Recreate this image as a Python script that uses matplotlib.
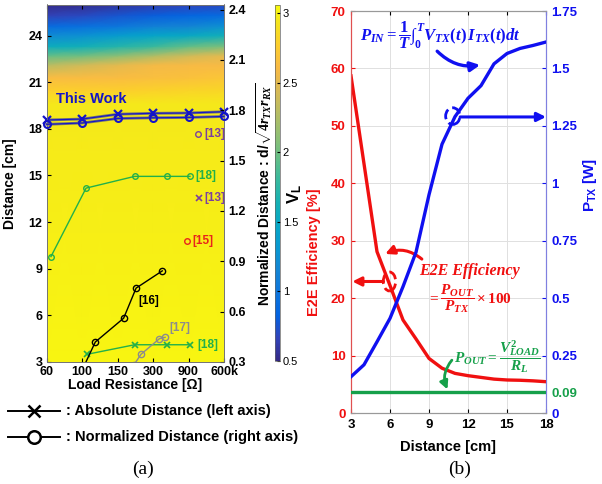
import numpy as np
import matplotlib
matplotlib.use('Agg')
import matplotlib.pyplot as plt
from matplotlib.colors import LinearSegmentedColormap
from matplotlib.patches import Ellipse
from matplotlib.lines import Line2D

plt.rcParams['font.family'] = ['Liberation Sans', 'DejaVu Sans']
plt.rcParams['font.weight'] = 'bold'
plt.rcParams['axes.labelweight'] = 'bold'
plt.rcParams['mathtext.fontset'] = 'custom'
plt.rcParams['mathtext.rm'] = 'Liberation Serif:bold'
plt.rcParams['mathtext.it'] = 'Liberation Serif:italic:bold'
plt.rcParams['mathtext.bf'] = 'Liberation Serif:bold'
plt.rcParams['mathtext.sf'] = 'Liberation Sans:bold'

# ---------------- data: panel (a) ----------------
load_labels = ['60', '100', '150', '300', '900', '600k']
heat_x = [0, 1, 2, 3, 4, 5]
heat_dist = [3, 19.6, 20.5, 21.3, 22.1, 22.7, 23.3, 24.0, 24.6, 25.3, 26]
heat_vl = [
    [3.02, 3.02, 3.02, 3.02, 3.02, 3.02],
    [2.95, 2.95, 2.95, 2.95, 2.95, 2.95],
    [2.78, 2.78, 2.78, 2.80, 2.82, 2.84],
    [2.62, 2.62, 2.63, 2.64, 2.66, 2.70],
    [2.30, 2.40, 2.50, 2.58, 2.60, 2.60],
    [1.95, 2.00, 2.10, 2.25, 2.40, 2.50],
    [1.55, 1.60, 1.70, 1.80, 1.95, 2.05],
    [1.20, 1.25, 1.35, 1.45, 1.50, 1.60],
    [0.90, 0.95, 1.00, 1.10, 1.15, 1.25],
    [0.65, 0.70, 0.75, 0.80, 0.85, 0.90],
    [0.50, 0.52, 0.58, 0.62, 0.66, 0.70],
]

this_work_x = [0, 1, 2, 3, 4, 5]
this_work_abs = [18.57, 18.63, 18.94, 19.0, 19.02, 19.1]
this_work_norm = [1.716, 1.724, 1.751, 1.755, 1.757, 1.763]

ref18_norm_x = [0.12, 1.11, 2.48, 3.38, 4.04]
ref18_norm = [0.928, 1.336, 1.406, 1.406, 1.406]
ref18_abs_x = [1.15, 2.48, 3.40, 4.03]
ref18_abs = [3.5, 4.11, 4.11, 4.11]
ref16_x = [1.0, 1.37, 2.17, 2.52, 3.26]
ref16_norm = [0.252, 0.419, 0.561, 0.74, 0.843]
ref17_x = [2.45, 2.66, 3.18, 3.34]
ref17_norm = [0.28, 0.346, 0.439, 0.447]
ref13_norm_x, ref13_norm = [4.28], [1.66]
ref13_abs_x, ref13_abs = [4.29], [13.52]
ref15_norm_x, ref15_norm = [3.97], [1.022]

# ---------------- data: panel (b) ----------------
dist = [3, 4, 5, 6, 7, 8, 9, 10, 11, 12, 13, 14, 15, 16, 17, 18]
eff = [58.7, 43.4, 28.1, 22.2, 16.2, 12.9, 9.5, 7.8, 6.9, 6.5, 6.2, 5.9, 5.75, 5.7, 5.6, 5.45]
ptx = [0.158, 0.21, 0.31, 0.412, 0.55, 0.70, 0.95, 1.17, 1.29, 1.37, 1.425, 1.52, 1.565, 1.587, 1.60, 1.615]
p_out = 0.09

# parula-like colormap
parula_pos = [0, 4, 8, 12, 16, 20, 24, 28, 32, 36, 40, 44, 48, 52, 56, 60, 63]
parula_rgb = [
    [0.2081, 0.1663, 0.5292], [0.1959, 0.2645, 0.7279], [0.0117, 0.3875, 0.8820],
    [0.0498, 0.4586, 0.8641], [0.0793, 0.5200, 0.8312], [0.0343, 0.5966, 0.8199],
    [0.0228, 0.6535, 0.7768], [0.0843, 0.6928, 0.7062], [0.2178, 0.7250, 0.6193],
    [0.3953, 0.7459, 0.5244], [0.5709, 0.7485, 0.4494], [0.7184, 0.7411, 0.3905],
    [0.8507, 0.7299, 0.3360], [0.9739, 0.7314, 0.2666], [0.9880, 0.8066, 0.1794],
    [0.9589, 0.8949, 0.1132], [0.9763, 0.9831, 0.0538]]
parula = LinearSegmentedColormap.from_list(
    'parula', list(zip([p / 63 for p in parula_pos], parula_rgb)))

W, H = 602, 484
fig = plt.figure(figsize=(W / 100, H / 100), dpi=100)


def fr(x0, y0, x1, y1):
    return [x0 / W, 1 - y1 / H, (x1 - x0) / W, (y1 - y0) / H]


def bold_ticks(a):
    for t in a.get_xticklabels() + a.get_yticklabels():
        t.set_fontweight('bold')


# ---------------- panel (a) ----------------
ax = fig.add_axes(fr(46.7, 4.5, 224, 362))
mesh = ax.pcolormesh(heat_x, heat_dist, np.array(heat_vl), cmap=parula,
                     vmin=0.5, vmax=3.06, shading='gouraud', rasterized=True)
ax.set_xlim(0, 5)
ax.set_ylim(3, 26)
ax.set_xticks(range(len(load_labels)))
ax.set_xticklabels(load_labels)
ax.set_yticks(np.arange(3, 25, 3))
ax.tick_params(direction='in', length=3, labelsize=9, top=True, pad=3)
for s in ax.spines.values():
    s.set_color('0.45')
    s.set_linewidth(0.6)

axr = ax.twinx()
axr.set_ylim(0.3, 2.43)
axr.set_yticks([0.3, 0.6, 0.9, 1.2, 1.5, 1.8, 2.1, 2.4])
axr.set_yticklabels(['0.3', '0.6', '0.9', '1.2', '1.5', '1.8', '2.1', '2.4'])
axr.tick_params(direction='in', length=3, labelsize=9, pad=3)
for s in axr.spines.values():
    s.set_color('0.45')
    s.set_linewidth(0.6)
bold_ticks(ax)
bold_ticks(axr)

tw_col = '#1414c8'
ax.plot(this_work_x, this_work_abs, color='0.45', lw=2.0, zorder=3, clip_on=False)
ax.plot(this_work_x, this_work_abs, color=tw_col, lw=0.8, marker='x', ms=5.5,
        mew=1.6, mec=tw_col, zorder=4, clip_on=False)
axr.plot(this_work_x, this_work_norm, color='0.45', lw=2.0, zorder=3, clip_on=False)
axr.plot(this_work_x, this_work_norm, color=tw_col, lw=0.8, marker='o', ms=5,
         mew=1.5, mfc='none', mec=tw_col, zorder=4, clip_on=False)
ax.text(1.26, 19.9, 'This Work', color=tw_col, fontsize=10.5, ha='center', va='center')

g18 = '#22b04a'
axr.plot(ref18_norm_x, ref18_norm, color=g18, lw=1, marker='o', ms=4, mfc='none', mew=1)
ax.plot(ref18_abs_x, ref18_abs, color=g18, lw=1, marker='x', ms=5, mew=1.2)
axr.plot(ref16_x, ref16_norm, color='k', lw=1, marker='o', ms=4.5, mfc='none', mew=1)
axr.plot(ref17_x, ref17_norm, color='#8c8c8c', lw=1, marker='o', ms=4.5, mfc='none', mew=1)
p13 = '#7b3f9e'
axr.plot(ref13_norm_x, ref13_norm, ls='none', marker='o', ms=4, mfc='none', mec=p13, mew=1)
ax.plot(ref13_abs_x, ref13_abs, ls='none', marker='x', ms=5, mec=p13, mew=1.2)
axr.plot(ref15_norm_x, ref15_norm, ls='none', marker='o', ms=4, mfc='none', mec='#e8241c', mew=1)

lbl = dict(fontsize=8.5, va='center', ha='left')
ax.text(4.46, 17.69, '[13]', color=p13, **lbl)
ax.text(4.46, 13.52, '[13]', color=p13, **lbl)
ax.text(4.12, 10.8, '[15]', color='#e8241c', **lbl)
ax.text(4.20, 14.94, '[18]', color=g18, **lbl)
ax.text(4.25, 4.11, '[18]', color=g18, **lbl)
ax.text(2.59, 6.95, '[16]', color='k', **lbl)
ax.text(3.46, 5.21, '[17]', color='#8c8c8c', **lbl)

ax.set_ylabel('Distance [cm]', fontsize=10)
ax.yaxis.set_label_coords(-0.17, 0.5)
ax.set_xlabel('Load Resistance [Ω]', fontsize=10)
ax.xaxis.set_label_coords(0.5, -0.045)
axr.set_ylabel(r'Normalized Distance : d/$\sqrt{4r_{TX}r_{RX}}$', fontsize=10)
axr.yaxis.set_label_coords(1.175, 0.47)

cax = fig.add_axes(fr(275, 5, 280, 361))
cb = fig.colorbar(mesh, cax=cax)
cb.set_ticks([0.5, 1, 1.5, 2, 2.5, 3])
cb.set_ticklabels(['0.5', '1', '1.5', '2', '2.5', '3'])
cb.outline.set_linewidth(0.5)
cb.outline.set_edgecolor('0.4')
cax.tick_params(labelsize=8, length=2, direction='in', pad=2)
for t in cax.get_yticklabels():
    t.set_fontweight('normal')
cax.text(4.0, 0.47, r'$\mathsf{V}_\mathsf{L}$', transform=cax.transAxes,
         rotation=90, fontsize=12, ha='center', va='center')

# legend under panel (a)
for yy, mk, txt in [(411, 'x', ': Absolute Distance (left axis)'),
                    (437, 'o', ': Normalized Distance (right axis)')]:
    yf = 1 - yy / H
    fig.add_artist(Line2D([8 / W, 60 / W], [yf, yf], color='k', lw=1.4))
    fig.add_artist(Line2D([34 / W], [yf], color='k', marker=mk, ms=9, mew=1.8,
                          mfc='white', mec='k', ls='none'))
    fig.text(66 / W, yf, txt, fontsize=10.5, va='center', ha='left')

fig.text(143 / W, 1 - 469 / H, '(a)', fontsize=14, family='Liberation Serif',
         fontweight='normal', ha='center', va='center')
fig.text(460 / W, 1 - 469 / H, '(b)', fontsize=14, family='Liberation Serif',
         fontweight='normal', ha='center', va='center')

# ---------------- panel (b) ----------------
red = '#f01010'
blue = '#1010f0'
green = '#16a04a'

ae = fig.add_axes(fr(351, 11, 546, 413))
ae.grid(True, color='0.88', lw=0.7, zorder=0)
ae.plot(dist, eff, color=red, lw=2.4, zorder=3)
ae.set_xlim(3, 18)
ae.set_ylim(0, 70)
ae.set_xticks([3, 6, 9, 12, 15, 18])
ae.set_yticks(np.arange(0, 71, 10))
ae.tick_params(axis='x', direction='in', length=3, labelsize=9.5, top=True, pad=4)
ae.tick_params(axis='y', direction='in', length=3, labelsize=9.5, colors=red, pad=4)

ap = ae.twinx()
ap.plot(dist, ptx, color=blue, lw=2.4, zorder=3)
ap.axhline(p_out, color=green, lw=2.4, zorder=3)
ap.set_ylim(0, 1.75)
ptx_ticks = [0, 0.09, 0.25, 0.5, 0.75, 1, 1.25, 1.5, 1.75]
ap.set_yticks(ptx_ticks)
ap.set_yticklabels(['0', '0.09', '0.25', '0.5', '0.75', '1', '1.25', '1.5', '1.75'])
ap.tick_params(axis='y', direction='in', length=3, labelsize=9.5, colors=blue, pad=4)
ap.get_yticklabels()[1].set_color(green)
ap.get_yticklines()[2].set_color(green)
bold_ticks(ae)
bold_ticks(ap)

for a in (ae, ap):
    a.spines['left'].set_color('#e05050')
    a.spines['right'].set_color('#8080e0')
    a.spines['top'].set_color('0.6')
    a.spines['bottom'].set_color('0.6')
    for s in a.spines.values():
        s.set_linewidth(0.8)

ae.set_ylabel('E2E Efficiency [%]', color=red, fontsize=10.5)
ae.yaxis.set_label_coords(-0.155, 0.40)
ae.set_xlabel('Distance [cm]', fontsize=10.5)
ae.xaxis.set_label_coords(0.5, -0.066)
ap.set_ylabel(r'$\mathsf{P}_\mathsf{TX}$ [W]', color=blue, fontsize=11)
ap.yaxis.set_label_coords(1.18, 0.567)

# annotations: P_IN
ae.text(9.88, 65.8, r'$P_{IN}=\dfrac{1}{T}\int_0^T V_{TX}(t)\,I_{TX}(t)dt$',
        color=blue, fontsize=12, ha='center', va='center', zorder=5)
ae.annotate('', xy=(12.93, 60.6), xytext=(9.63, 63.0),
            arrowprops=dict(arrowstyle='-|>', color=blue, lw=2.4, mutation_scale=14,
                            connectionstyle='arc3,rad=0.25', shrinkA=0, shrinkB=0))
ae.add_patch(Ellipse((10.83, 51.7), 1.1, 2.9, fill=False, ec=blue, lw=2, ls='--', zorder=5))
ae.annotate('', xy=(18.0, 51.55), xytext=(11.4, 51.55),
            arrowprops=dict(arrowstyle='-|>', color=blue, lw=2.2, mutation_scale=13,
                            shrinkA=0, shrinkB=0))

# annotations: efficiency
ae.text(12.08, 24.7, 'E2E Efficiency', color=red, fontsize=11.5, family='Liberation Serif',
        style='italic', fontweight='bold', ha='center', va='center', zorder=5)
ae.text(12.1, 19.9, r'$=\dfrac{P_{OUT}}{P_{TX}}\times 100$', color=red, fontsize=11,
        ha='center', va='center', zorder=5)
ae.annotate('', xy=(5.63, 27.7), xytext=(8.45, 26.8),
            arrowprops=dict(arrowstyle='-|>', color=red, lw=2.2, mutation_scale=13,
                            connectionstyle='arc3,rad=0.3', shrinkA=0, shrinkB=0))
ae.add_patch(Ellipse((5.96, 22.9), 0.95, 3.3, fill=False, ec=red, lw=2, ls='--', zorder=5))
ae.annotate('', xy=(3.1, 22.9), xytext=(5.5, 22.9),
            arrowprops=dict(arrowstyle='-|>', color=red, lw=2.2, mutation_scale=13,
                            shrinkA=0, shrinkB=0))

# annotations: P_OUT
ae.text(14.27, 9.8, r'$P_{OUT}=\dfrac{V_{LOAD}^2}{R_L}$', color=green, fontsize=11,
        ha='center', va='center', zorder=5)
ae.annotate('', xy=(10.42, 4.1), xytext=(10.76, 9.2),
            arrowprops=dict(arrowstyle='-|>', color=green, lw=2.0, mutation_scale=12,
                            connectionstyle='arc3,rad=0.3', shrinkA=0, shrinkB=0))

fig.savefig('out.png', dpi=100)
